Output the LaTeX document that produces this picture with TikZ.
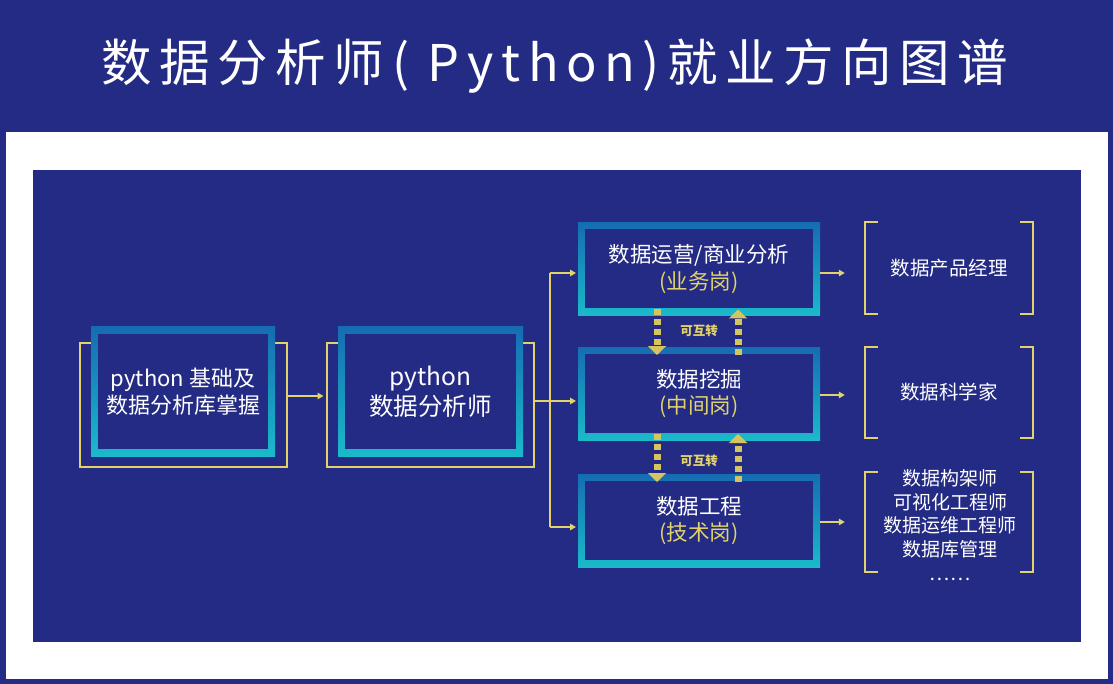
\documentclass[tikz,border=0pt]{standalone}
\usepackage{fontspec}
\setmainfont{Noto Sans CJK SC}
\newfontfamily\titlefont[LetterSpace=15]{Noto Sans CJK SC}
\usetikzlibrary{arrows.meta,positioning,calc}
\definecolor{navy}{RGB}{36,43,132}
\definecolor{edgeTop}{RGB}{22,108,178}
\definecolor{edgeBot}{RGB}{26,186,202}
\definecolor{gold}{RGB}{226,210,108}
\definecolor{goldDk}{RGB}{214,196,96}
\tikzset{
  stage/.style={rectangle,inner sep=0pt,outer sep=0pt,text=white,align=center,
    top color=edgeTop,bottom color=edgeBot,
    path picture={\fill[navy] ([shift={(7pt,-7pt)}]path picture bounding box.north west)
      rectangle ([shift={(-7pt,7pt)}]path picture bounding box.south east);}},
  role/.style={stage,minimum width=242pt,minimum height=93pt,
    font=\fontsize{21.5}{26.5}\selectfont},
  backframe/.style={draw=gold,line width=2pt,inner sep=0pt,
    minimum width=207pt,minimum height=124pt},
  jobs/.style={inner sep=0pt,text=white,align=center,minimum width=168pt,
    font=\fontsize{19.5}{24}\selectfont},
  brk/.style={draw=gold,line width=2.2pt},
  ln/.style={draw=gold,line width=1.6pt},
  arr/.style={ln,-{Triangle[length=6pt,width=6.5pt]},shorten >=2pt},
  swap/.style={draw=goldDk,line width=7pt,dash pattern=on 6pt off 4pt,
    -{Triangle[length=9pt,width=18pt]}},
  tag/.style={text=gold,font=\bfseries\fontsize{12.5}{14}\selectfont,inner sep=1pt},
}

\begin{document}
\begin{tikzpicture}[x=1pt,y=-1pt]
  \useasboundingbox (0,0) rectangle (1113,684);
  \fill[navy] (0,0) rectangle (1113,684);
  \fill[white] (6,132) rectangle (1108,679);
  \fill[navy] (33,170) rectangle (1081,642);
  \node[text=white,inner sep=0pt,font=\titlefont\fontsize{50.5}{56}\selectfont]
    (ttl) at (555,66) {数据分析师( Python)就业方向图谱};

  % left column
  \node[backframe] (f1) at (183.5,405) {};
  \node[backframe] (f2) at (430,405) {};
  \node[stage,minimum width=184pt,minimum height=129pt,font=\fontsize{22}{26.5}\selectfont]
    (base) at (183,391.5) {python 基础及\\数据分析库掌握};
  \node[stage,minimum width=185pt,minimum height=129pt,font=\fontsize{24.5}{30}\selectfont]
    (ana) at (430.5,391.5) {python\\数据分析师};

  % three roles
  \node[role] (biz) at (699,269) {数据运营/商业分析\\\textcolor{gold}{(业务岗)}};
  \node[role] (mine) at (699,393.5) {数据挖掘\\\textcolor{gold}{(中间岗)}};
  \node[role] (eng) at (699,520.5) {数据工程\\\textcolor{gold}{(技术岗)}};

  % job groups
  \node[jobs,minimum height=92pt] (pm) at (949,268) {数据产品经理};
  \node[jobs,minimum height=91pt] (sci) at (949,392.5) {数据科学家};
  \node[jobs,minimum height=100pt] (opsb) at (949,522) {};
  \node[jobs,font=\fontsize{19}{23.7}\selectfont] (ops) at (950,525)
    {数据构架师\\可视化工程师\\数据运维工程师\\数据库管理\\……};
  \foreach \g in {pm,sci,opsb}{
    \draw[brk] ([xshift=13pt]\g.north west) -- (\g.north west) -- (\g.south west)
      -- ([xshift=13pt]\g.south west);
    \draw[brk] ([xshift=-13pt]\g.north east) -- (\g.north east) -- (\g.south east)
      -- ([xshift=-13pt]\g.south east);
  }

  % connectors
  \draw[arr] ([yshift=9pt]f1.east) -- ([yshift=9pt]f2.west);
  \coordinate (jn) at (550,401);
  \draw[ln] ([yshift=4pt]f2.east) -- (jn);
  \coordinate (tb) at ([yshift=-4pt]biz.west);
  \coordinate (tm) at ([yshift=-7.5pt]mine.west);
  \coordinate (te) at ([yshift=-6.5pt]eng.west);
  \draw[ln] (tb -| jn) -- (te -| jn);
  \foreach \t in {tb,tm,te}
    \draw[arr] (\t -| jn) -- (\t);

  \coordinate (rb) at ([yshift=-4pt]biz.east);
  \coordinate (rm) at ([yshift=-1.5pt]mine.east);
  \coordinate (re) at ([yshift=-1.5pt]eng.east);
  \draw[arr,shorten >=20pt] (rb) -- (rb -| pm.west);
  \draw[arr,shorten >=20pt] (rm) -- (rm -| sci.west);
  \draw[arr,shorten >=20pt] (re) -- (re -| opsb.west);

  % switching between roles
  \draw[swap] ([shift={(-42pt,6pt)}]biz.south) -- ([shift={(-42pt,-8pt)}]mine.north);
  \draw[swap] ([shift={(39pt,-8pt)}]mine.north) -- ([shift={(39pt,6pt)}]biz.south);
  \draw[swap] ([shift={(-42pt,6pt)}]mine.south) -- ([shift={(-42pt,-8pt)}]eng.north);
  \draw[swap] ([shift={(39pt,-8pt)}]eng.north) -- ([shift={(39pt,6pt)}]mine.south);
  \node[tag] (sw1) at ($(biz.south)!.5!(mine.north)$) {可互转};
  \node[tag,yshift=-4pt] (sw2) at ($(mine.south)!.5!(eng.north)$) {可互转};
\end{tikzpicture}
\end{document}
